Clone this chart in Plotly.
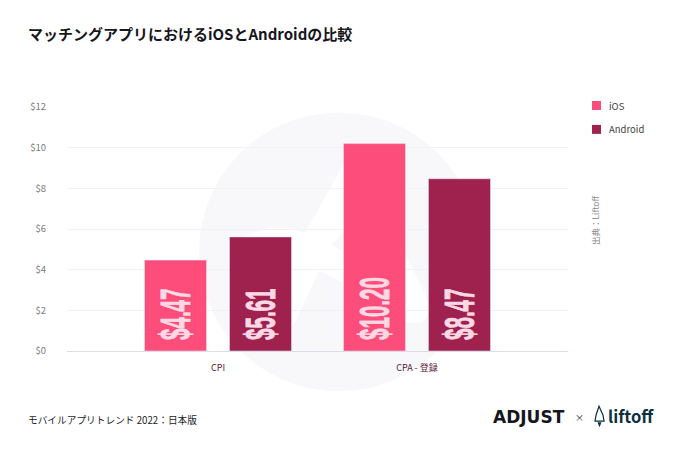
import plotly.graph_objects as go

categories = ["CPI", "CPA - 登録"]
ios_values = [4.47, 10.20]
android_values = [5.61, 8.47]
ios_labels = ["$4.47", "$10.20"]
android_labels = ["$5.61", "$8.47"]
tick_values = [0, 2, 4, 6, 8, 10, 12]
tick_labels = ["$0", "$2", "$4", "$6", "$8", "$10", "$12"]

JP = "Noto Sans CJK JP"
W, H = 680, 453
L, R, T, B = 67, 568, 106.5, 351.5
CIRCLE_GREY = "#f8f8fb"


# page pixels -> paper coordinates of the plot area
def px(x):
    return (x - L) / (R - L)


def py(y):
    return (B - y) / (B - T)


def path(points):
    return "M" + " L".join(f"{px(x):.4f},{py(y):.4f}" for x, y in points) + " Z"


fig = go.Figure()
series = [
    ("iOS", ios_values, ios_labels, "#fd4d7a", 105),
    ("Android", android_values, android_labels, "#9e214e", 129),
]
for name, vals, labels, color, legend_y in series:
    fig.add_trace(go.Bar(
        name=name, x=categories, y=vals, text=labels, marker_color=color,
        textposition="inside", insidetextanchor="start",
        textangle=-90, constraintext="none",
        textfont=dict(family="Liberation Sans", size=42, color="#fbd9e4", weight="bold"),
    ))
    # legend drawn by hand, plotly's swatch spacing is too wide
    fig.add_shape(type="rect", xref="paper", yref="paper", line_width=0, fillcolor=color,
                  x0=px(592), x1=px(601), y0=py(legend_y + 4.5), y1=py(legend_y - 4.5))
    fig.add_annotation(text=name, xref="paper", yref="paper", x=px(607), y=py(legend_y),
                       xanchor="left", yanchor="middle", showarrow=False,
                       font=dict(size=9.5, color="#444444", family=JP))

fig.update_layout(
    width=W, height=H, autosize=False, showlegend=False,
    margin=dict(l=L, r=W - R, t=T, b=H - B, pad=0),
    paper_bgcolor="white", plot_bgcolor="rgba(0,0,0,0)",
    barmode="group", bargap=0.146, bargroupgap=0.27,
    font=dict(family=JP, color="#555555", size=10),
    title=dict(text="<b>マッチングアプリにおけるiOSとAndroidの比較</b>",
               x=28 / W, xanchor="left", y=1 - 34.5 / H, yanchor="middle",
               font=dict(family=JP, size=15, color="#16161d")),
    xaxis=dict(type="category", range=[-0.759, 1.759], showgrid=False,
               showline=True, linecolor="#dcdcea", linewidth=1.2, ticks="",
               ticklabelstandoff=8,
               tickfont=dict(size=9, color="#5c1a38", family=JP)),
    yaxis=dict(range=[0, 12], tickvals=tick_values, ticktext=tick_labels,
               gridcolor="#f1f1f7", gridwidth=1, zeroline=False, ticks="",
               ticklabelstandoff=20, tickfont=dict(size=9.5, color="#7b7b7b", family=JP)),
)

# watermark behind the bars: circle, white A, grey wedge inside the A
fig.add_shape(type="circle", xref="paper", yref="paper", layer="below", line_width=0,
              fillcolor=CIRCLE_GREY, x0=px(199), x1=px(479), y0=py(392), y1=py(112))
fig.add_shape(type="path", xref="paper", yref="paper", layer="below", line_width=0,
              fillcolor="white",
              path=path([(352, 150), (364, 165), (427, 300), (431, 312), (422, 323), (405, 323),
                         (343, 283), (319, 271), (295, 323), (270, 345), (240, 340), (231, 300),
                         (235, 255), (245, 236), (268, 228), (288, 228), (305, 233), (343, 165)]))
fig.add_shape(type="path", xref="paper", yref="paper", layer="below", line_width=0,
              fillcolor=CIRCLE_GREY, path=path([(331, 245), (350, 226), (350, 254)]))

# rocket mark of the footer logo
fig.add_shape(type="path", xref="paper", yref="paper", line=dict(color="#0d3040", width=1.2),
              fillcolor="white",
              path=path([(599, 407), (603, 416), (604, 422), (595, 422), (596, 416)]))
fig.add_shape(type="path", xref="paper", yref="paper", line_width=0, fillcolor="#0d3040",
              path=path([(597.5, 423), (601.5, 423), (599.5, 428)]))

notes = [
    ("モバイルアプリトレンド 2022：日本版", 26, 421, "left", 9.7, "#1d1d24", 0, False, JP),
    ("出典：Liftoff", 595, 221, "center", 8.5, "#888888", -90, False, JP),
    ("ADJUST", 491, 417.5, "left", 17, "#16161d", 0, True, "DejaVu Sans"),
    ("×", 579, 418, "center", 9, "#16161d", 0, False, JP),
    ("liftoff", 606, 417, "left", 16.5, "#0d3040", 0, True, JP),
]
for text, x, y, anchor, size, color, angle, bold, family in notes:
    fig.add_annotation(text=f"<b>{text}</b>" if bold else text, xref="paper", yref="paper",
                       x=px(x), y=py(y), xanchor=anchor, yanchor="middle", showarrow=False,
                       textangle=angle, font=dict(size=size, color=color, family=family))

# squeeze the bar labels into a tall condensed look and sit them on the baseline
post = """
document.body.style.margin = '0';
var gd = document.getElementById('{plot_id}');
var base = gd.getBoundingClientRect().top + 340;
gd.querySelectorAll('.bars text.bartext').forEach(function (t) {
    t.setAttribute('textLength', t.getComputedTextLength() * 0.49);
    t.setAttribute('lengthAdjust', 'spacingAndGlyphs');
    t.style.stroke = '#fbd9e4';
    t.style.strokeWidth = '0.9px';
    var dy = base - t.getBoundingClientRect().bottom;
    t.setAttribute('transform', 'translate(0,' + dy + ') ' + (t.getAttribute('transform') || ''));
});
"""
fig.write_html("out.html", config=dict(displayModeBar=False), post_script=post)
